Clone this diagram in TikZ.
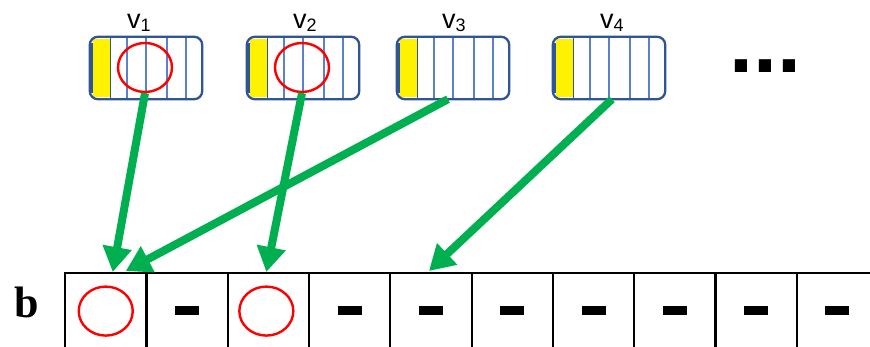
\documentclass[tikz,border=0pt]{standalone}
\usepackage{fontspec}
\setmainfont{Liberation Sans}
\newfontfamily\serifb{Liberation Serif}
\usetikzlibrary{arrows.meta,calc,shapes.geometric}
\definecolor{boxblue}{HTML}{2F5597}
\definecolor{lineblue}{HTML}{5B80CC}
\definecolor{arrgreen}{HTML}{00B050}
\begin{document}
\begin{tikzpicture}[x=1pt,y=-1pt,
  vbox/.style={fill=white, minimum width=112pt, minimum height=62pt, inner sep=0pt, rounded corners=8pt},
  cell/.style={draw=black, line width=2.2pt, minimum width=81.3pt, minimum height=76pt, inner sep=0pt, anchor=north west},
  ring/.style={ellipse, draw=red, line width=2.4pt, minimum width=54pt, minimum height=49pt, inner sep=0pt},
  dashmark/.style={fill=black, minimum width=24pt, minimum height=9pt, inner sep=0pt},
  link/.style={draw=arrgreen, line width=8pt, -{Triangle[length=25pt,width=28pt]}},
  vlabel/.style={anchor=base west, inner sep=0pt, font=\fontsize{27}{27}\selectfont}
]
\useasboundingbox (0,0) rectangle (870,347);

% value boxes
\foreach \n/\x/\lx in {1/90/127, 2/247/293, 3/397/442, 4/553/600} {
  \node[vbox] (v\n) at (\x+56, 68) {};
  \fill[yellow] (\x+3, 39) rectangle (\x+20, 97);
  \draw[boxblue, line width=1pt] (\x+20, 38) -- (\x+20, 98);
  \foreach \o in {37,56,77,96} {
    \draw[lineblue, line width=1.3pt] (\x+\o, 38) -- (\x+\o, 98);
  }
  \draw[boxblue, line width=2.3pt, rounded corners=8pt] (v\n.north west) rectangle (v\n.south east);
  \draw[boxblue, line width=4pt] (\x+1, 43) -- (\x+1, 93);
  \node[vlabel] (lv\n) at (\lx, 29) {v\raisebox{-3pt}{\fontsize{18}{18}\selectfont\n}};
}
\node[ring] (c1) at (145, 67.5) {};
\node[ring] (c2) at (302, 67.5) {};

\node[anchor=base west, inner sep=0pt, font=\bfseries\fontsize{86}{86}\selectfont] (dots) at (729, 73) {...};

% array b
\foreach \i in {1,...,10} {
  \node[cell] (t\i) at ({64+81.3*(\i-1)}, 272) {};
}
\node[anchor=base, inner sep=0pt, font=\serifb\bfseries\fontsize{44}{44}\selectfont] (blabel) at (27, 317) {b};
\node[ring] (r1) at ($(t1.center)+(0,0)$) {};
\node[ring] (r3) at ($(t3.center)+(-2,0)$) {};
\foreach \i in {2,4,5,6,7,8,9,10} {
  \node[dashmark] (d\i) at ($(t\i.center)+(0,-1)$) {};
}

% connectors
\draw[link] (c1.south) -- ($(t1.north)+(7,0)$);
\draw[link] (c2.south) -- ($(t3.north)+(-2,0)$);
\draw[link] ($(v3.south)+(-5,0)$) -- ($(t1.north)+(20,-1)$);
\draw[link] ($(v4.south)+(3,0)$) -- ($(t5.north)+(-2,-1)$);
\end{tikzpicture}
\end{document}
